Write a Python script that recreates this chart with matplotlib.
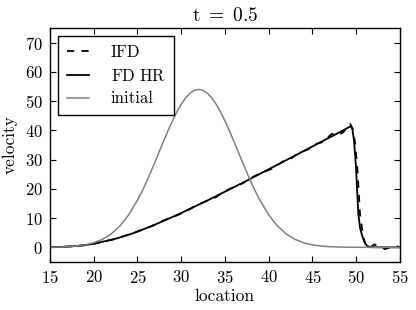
import matplotlib
matplotlib.use('Agg')
import matplotlib.pyplot as plt

plt.rcParams['font.family'] = 'serif'
plt.rcParams['font.serif'] = ['cmr10', 'DejaVu Serif']
plt.rcParams['mathtext.fontset'] = 'cm'
plt.rcParams['axes.formatter.use_mathtext'] = True
plt.rcParams['axes.unicode_minus'] = False

# initial velocity profile
init_x = [15, 16, 17, 18, 19, 20, 21, 22, 23, 24, 25, 25.5, 26, 26.5, 27, 27.5,
          28, 28.5, 29, 29.5, 30, 30.5, 31, 31.5, 32, 32.5, 33, 33.5, 34, 34.5,
          35, 35.5, 36, 36.5, 37, 37.5, 38, 38.5, 39, 40, 41, 42, 43, 44, 45,
          46, 47, 48, 49, 50, 51, 52, 53, 54, 55]
init_u = [0.04, 0.10, 0.21, 0.43, 0.83, 1.54, 2.73, 4.57, 7.31, 11.1, 16.1, 19.0,
          22.2, 25.6, 29.1, 32.8, 36.4, 39.9, 43.2, 46.3, 48.9, 51.1, 52.7, 53.7,
          54.0, 53.7, 52.7, 51.1, 48.9, 46.3, 43.2, 39.9, 36.4, 32.8, 29.1, 25.6,
          22.2, 19.0, 16.1, 11.1, 7.31, 4.57, 2.73, 1.54, 0.83, 0.43, 0.21, 0.10,
          0.04, 0.02, 0.01, 0.0, 0.0, 0.0, 0.0]

# FD HR solution at t = 0.5
fd_x = [15, 16, 17, 18, 19, 20, 21, 22.35, 24.3, 26.65, 29.55, 33.05, 37.1,
        41.55, 46.2, 48.45, 49.1, 49.35, 49.55, 49.75, 49.97, 50.24, 50.45,
        50.62, 50.9, 51.2, 51.6, 53, 55]
fd_u = [0.05, 0.12, 0.25, 0.45, 0.75, 1.2, 1.9, 2.8, 4.6, 7.3, 11.1, 16.1, 22.2,
        29.1, 36.4, 39.9, 41.0, 41.4, 40.5, 36.5, 27.5, 11.4, 6.5, 4.6, 2.0,
        0.6, 0.05, 0.0, 0.0]

# IFD solution at t = 0.5
ifd_x = [15, 16, 17, 18, 19, 20, 21, 22.35, 24.3, 26.65, 28, 29.55, 30.5, 31.5,
         33.05, 34, 35, 36, 37.1, 38, 39.5, 40.5, 41.55, 42.5, 43.5, 44.5, 45.5,
         46.2, 47.2, 48.0, 48.6, 49.0, 49.3, 49.6, 49.85, 50.12, 50.43, 50.8,
         51.1, 51.38, 51.7, 52.1, 52.6, 53.3, 53.9, 54.4, 55]
ifd_u = [0.05, 0.12, 0.25, 0.45, 0.75, 1.2, 1.9, 2.8, 4.6, 7.3, 9.2, 11.0, 12.2,
         14.0, 16.1, 17.2, 19.2, 20.6, 22.0, 23.8, 25.9, 27.0, 29.3, 30.3, 32.4,
         33.5, 35.5, 36.0, 38.8, 38.3, 39.6, 41.5, 42.3, 40.5, 36.0, 27.5, 11.4,
         3.5, 0.8, -0.5, 0.2, 1.0, 0.2, -0.6, 0.0, 0.6, 0.0]

x_ticks = [15, 20, 25, 30, 35, 40, 45, 50, 55]
y_ticks = [0, 10, 20, 30, 40, 50, 60, 70]

fig = plt.figure(figsize=(4.16, 3.10), dpi=100)
ax = fig.add_axes([0.12, 0.155, 0.8415, 0.7545])

ax.plot(ifd_x, ifd_u, color='black', linestyle='--', dashes=(4, 4), linewidth=1.3, label='IFD')
ax.plot(fd_x, fd_u, color='black', linewidth=1.3, label=r'$\mathrm{FD\ HR}$')
ax.plot(init_x, init_u, color='0.5', linewidth=1.1, label='initial')

ax.set_xlim(15, 55)
ax.set_ylim(-5, 75)
ax.set_xticks(x_ticks)
ax.set_yticks(y_ticks)
ax.tick_params(direction='in', top=True, right=True, length=4, width=0.8,
               labelsize=12, pad=5)
for s in ax.spines.values():
    s.set_linewidth(1.0)

ax.set_xlabel('location', fontsize=12.5, labelpad=2)
ax.set_ylabel('velocity', fontsize=12.5, labelpad=5)
ax.set_title(r'$\mathrm{t}\ =\ 0.5$', fontsize=14, pad=5)

leg = ax.legend(loc='upper left', fontsize=12, fancybox=False, framealpha=1,
                edgecolor='black', borderaxespad=0.5, handlelength=1.35,
                handletextpad=1.3, labelspacing=0.45, borderpad=0.5)
leg.get_frame().set_linewidth(1.0)

fig.savefig('out.png', dpi=100)
